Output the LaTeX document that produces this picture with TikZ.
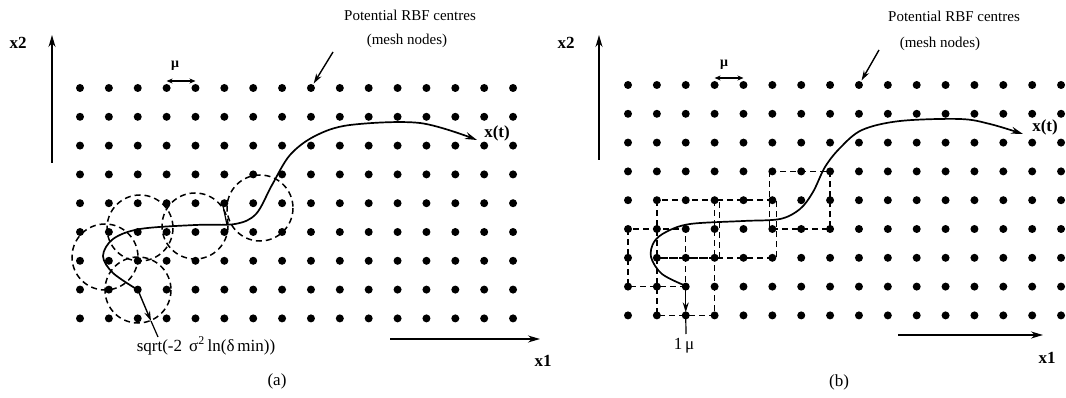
\documentclass[tikz,border=0pt]{standalone}
\usepackage{fontspec}
\setmainfont{Liberation Serif}
\usetikzlibrary{arrows.meta}
\begin{document}
\begin{tikzpicture}[x=1pt,y=-1pt,
  dot/.style={circle,fill=black,inner sep=0pt,minimum size=8pt},
  traj/.style={line width=1.7pt,-{Stealth[length=12pt,width=7pt]}},
  axis/.style={line width=1.5pt,-{Stealth[length=12pt,width=7pt]}},
  ptr/.style={line width=1.4pt,-{Stealth[length=10pt,width=6pt]}},
  mu/.style={line width=1.2pt,{Stealth[length=6pt,width=5pt]}-{Stealth[length=6pt,width=5pt]}},
  zone/.style={line width=1.5pt,dash pattern=on 6pt off 4pt},
  lbl/.style={font=\fontsize{15}{18}\selectfont,inner sep=0pt},
  slbl/.style={font=\fontsize{17}{20}\selectfont,inner sep=0pt},
  blbl/.style={font=\fontsize{17}{20}\selectfont\bfseries,inner sep=0pt},
  smlbl/.style={font=\fontsize{14}{16}\selectfont\bfseries,inner sep=0pt}]
\useasboundingbox (0,0) rectangle (1066,398);

% ---------- mesh nodes ----------
\foreach \i in {0,...,15}{
  \foreach \j in {0,...,8}{
    \node[dot] (L-\i-\j) at ({80+28.87*\i},{88+28.8*\j}) {};
    \node[dot] (R-\i-\j) at ({628+28.87*\i},{85+28.8*\j}) {};
  }
}

% ---------- panel (a) ----------
\coordinate (Lx2a) at (52,163); \coordinate (Lx2b) at (52,35);
\draw[axis] (Lx2a) -- (Lx2b);
\node[blbl] (Lx2) at (18,43) {x2};
\coordinate (Lx1a) at (390,339); \coordinate (Lx1b) at (540,339);
\draw[axis] (Lx1a) -- (Lx1b);
\node[blbl] (Lx1) at (543,361) {x1};

\node[lbl] (Lpot) at (410,15) {Potential RBF centres};
\node[lbl] (Lmesh) at (407,41) {(mesh nodes)};
\coordinate (Lptr) at (333,52);
\draw[ptr,shorten >=1pt] (Lptr) -- (L-8-0);

\draw[mu] ([yshift=7pt]L-3-0.center) -- ([yshift=7pt]L-4-0.center);
\node[smlbl] (Lmu) at (175,66) {μ};

% circles of radius sqrt(-2 sigma^2 ln(delta min))
\draw[zone] (138,290) circle[radius=33];
\draw[zone] (105,257) circle[radius=33];
\draw[zone] (140,228) circle[radius=33];
\draw[zone] (195,226) circle[radius=33];
\draw[zone] (260,208) circle[radius=33];

% trajectory
\coordinate (Lstart) at (L-2-7.center);
\draw[traj] plot[smooth,tension=0.55] coordinates {
  (138,290) (113,273) (103,256) (113,239) (140,229) (195,225) (235,224)
  (256,214) (272,185) (290,155) (315,136) (350,125) (420,123) (477,140)};
\node[blbl] (Lxt) at (497,133) {x(t)};
\coordinate (Ltick) at (222,201);
\draw[line width=1.2pt] (227,225) -- (Ltick);

% radius arrow and label
\coordinate (Lrad) at (151,321);
\coordinate (Lradend) at (158,337);
\draw[ptr] (Lstart) -- (Lrad);
\draw[line width=1.2pt] (Lrad) -- (Lradend);
\node[slbl] (Lsqrt) at (206,346) {sqrt(-2 \,σ\textsuperscript{2}\,ln(δ\,min))};
\node[slbl] (La) at (277,381) {(a)};

% ---------- panel (b) ----------
\coordinate (Rx2a) at (599,160); \coordinate (Rx2b) at (599,35);
\draw[axis] (Rx2a) -- (Rx2b);
\node[blbl] (Rx2) at (566,43) {x2};
\coordinate (Rx1a) at (898,335); \coordinate (Rx1b) at (1043,335);
\draw[axis] (Rx1a) -- (Rx1b);
\node[blbl] (Rx1) at (1047,358) {x1};

\node[lbl] (Rpot) at (954,16) {Potential RBF centres};
\node[lbl] (Rmesh) at (940,44) {(mesh nodes)};
\coordinate (Rptr) at (879,50);
\draw[ptr,shorten >=1pt] (Rptr) -- (R-8-0);

\draw[mu] ([yshift=7pt]R-3-0.center) -- ([yshift=7pt]R-4-0.center);
\node[smlbl] (Rmu) at (724,65) {μ};

% squares of half-width 1 mu
\draw[zone] (R-1-6.center) rectangle (R-3-8.center);
\draw[zone] (R-0-5.center) rectangle (R-2-7.center);
\draw[zone] (R-1-4.center) rectangle ([xshift=5pt]R-3-6.center);
\draw[zone] (R-3-4.center) rectangle ([xshift=4pt]R-5-6.center);
\draw[zone] ([xshift=-3pt]R-5-3.center) rectangle (R-7-5.center);

% trajectory
\coordinate (Rstart) at (R-2-7.center);
\draw[traj] plot[smooth,tension=0.55] coordinates {
  (686,286) (662,274) (651,257) (654,242) (666,232) (690,224) (743,221)
  (780,219) (800,209) (813,192) (825,167) (840,148) (862,130) (900,121)
  (960,119) (990,124) (1023,134)};
\node[blbl] (Rxt) at (1045,127) {x(t)};

% 1 mu arrow and label
\coordinate (Rradend) at (686,334);
\draw[ptr,shorten >=3pt] (Rstart) -- (R-2-8.center);
\draw[line width=1.2pt] (R-2-8.center) -- (Rradend);
\node[slbl] (R1mu) at (684,346) {1\,μ};
\node[slbl] (Rb) at (839,382) {(b)};
\end{tikzpicture}
\end{document}
